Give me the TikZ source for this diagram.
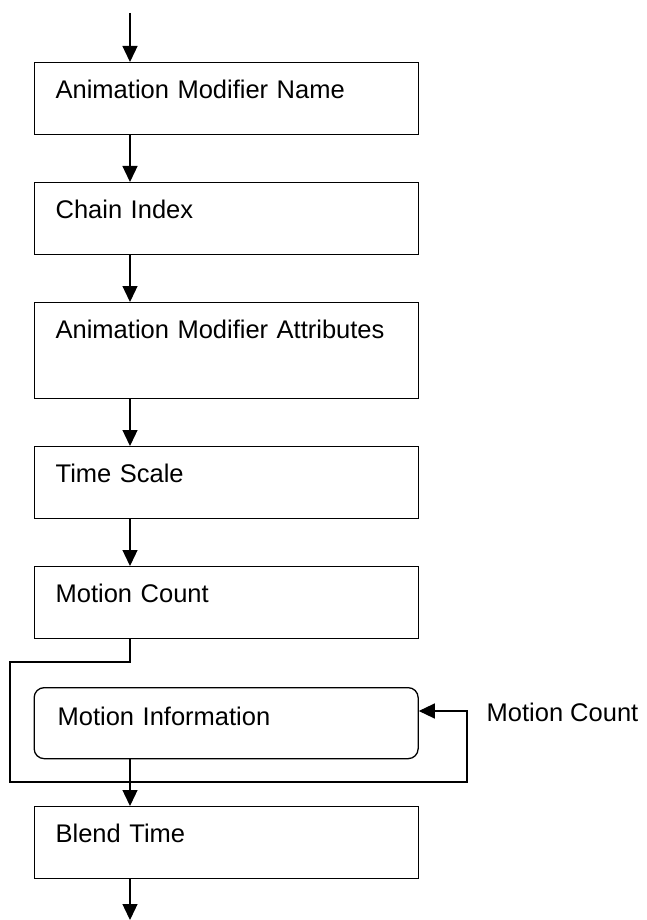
\documentclass[tikz,border=0pt]{standalone}
\usepackage{fontspec}
\setmainfont{Liberation Sans}
\usetikzlibrary{arrows.meta}

\tikzset{
  box/.style={draw, anchor=north west, text width=341pt, inner xsep=21.5pt,
    inner ysep=0pt, align=left, text height=36pt, text depth=36pt},
  flow/.style={-{Triangle[length=16pt,width=15pt]}},
}

\begin{document}
\begin{tikzpicture}[x=1pt, y=-1pt, line width=1.3pt, font=\fontsize{25.5}{30}\selectfont]
\useasboundingbox (0,0) rectangle (647,920);

\node[box] (name) at (33.5,62) {Animation Modifier Name};
\node[box] (chain) at (33.5,182) {Chain Index};
\node[box, text depth=60pt] (attr) at (33.5,302) {Animation Modifier Attributes};
\node[box] (scale) at (33.5,446) {Time Scale};
\node[box] (count) at (33.5,566) {Motion Count};
\node[box, rounded corners=10pt, inner xsep=23.5pt, text width=337pt,
  text height=38pt, text depth=33pt] (info) at (33.5,687) {Motion Information};
\node[box] (blend) at (33.5,806) {Blend Time};
\node[anchor=base west, inner sep=0pt] (loopcount) at (486,721) {Motion Count};

\coordinate (top) at (130,13);
\coordinate (bottom) at (130,920);
\coordinate (loopa) at (10,662);
\coordinate (loopb) at (467,782);
\coordinate (loopc) at (467,711);

\draw[flow] (top) -- (name.north -| top);
\draw[flow] (name.south -| top) -- (chain.north -| top);
\draw[flow] (chain.south -| top) -- (attr.north -| top);
\draw[flow] (attr.south -| top) -- (scale.north -| top);
\draw[flow] (scale.south -| top) -- (count.north -| top);

% loop over the motions
\draw[flow] (count.south -| top) |- (loopa) |- (loopb) -- (loopc) -- (info.east |- loopc);
\draw[flow] (info.south -| top) -- (blend.north -| top);
\draw[flow] (blend.south -| top) -- (bottom);
\end{tikzpicture}
\end{document}
